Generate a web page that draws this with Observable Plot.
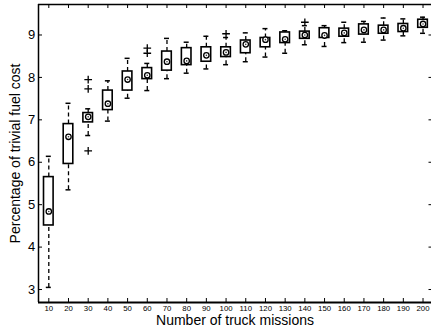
<!DOCTYPE html>
<html>
<head>
<meta charset="utf-8">
<script src="https://cdn.jsdelivr.net/npm/d3@7"></script>
<script src="https://cdn.jsdelivr.net/npm/@observablehq/plot@0.6"></script>
<style>
  html, body { margin: 0; padding: 0; background: #fff; overflow: hidden; }
  svg { display: block; }
</style>
</head>
<body>
<div id="chart"></div>
<script>
// ---- data ----
const missions    = [10, 20, 30, 40, 50, 60, 70, 80, 90, 100, 110, 120, 130, 140, 150, 160, 170, 180, 190, 200];
const whiskerLow  = [3.05, 5.35, 6.63, 6.97, 7.51, 7.69, 7.97, 8.10, 8.20, 8.30, 8.37, 8.48, 8.57, 8.77, 8.73, 8.82, 8.83, 8.88, 8.98, 9.04];
const q1          = [4.51, 5.96, 6.94, 7.23, 7.69, 7.96, 8.16, 8.29, 8.37, 8.48, 8.57, 8.71, 8.81, 8.91, 8.93, 8.96, 9.01, 9.03, 9.07, 9.17];
const median      = [4.84, 6.60, 7.07, 7.38, 7.95, 8.05, 8.37, 8.39, 8.52, 8.59, 8.78, 8.89, 8.90, 9.00, 8.99, 9.05, 9.12, 9.12, 9.16, 9.26];
const q3          = [5.65, 6.90, 7.16, 7.69, 8.14, 8.22, 8.61, 8.69, 8.71, 8.71, 8.87, 8.93, 9.06, 9.08, 9.16, 9.15, 9.25, 9.22, 9.26, 9.36];
const whiskerHigh = [6.14, 7.39, 7.26, 7.92, 8.45, 8.33, 8.92, 8.83, 8.97, 8.94, 9.05, 9.15, 9.10, 9.22, 9.22, 9.30, 9.32, 9.40, 9.38, 9.42];
const outlierMission = [30, 30, 30, 60, 60, 100, 140];
const outlierValue   = [7.95, 7.73, 6.27, 8.69, 8.57, 9.03, 9.30];
const yTicks = [3, 4, 5, 6, 7, 8, 9];
const xLabel = "Number of truck missions";
const yLabel = "Percentage of trivial fuel cost";

// ---- tables built from the arrays ----
const rows = missions.map((m, i) => ({m, lo: whiskerLow[i], q1: q1[i], med: median[i], q3: q3[i], hi: whiskerHigh[i]}));
const outliers = outlierMission.map((m, i) => ({m, v: outlierValue[i]}));

const W = 431, H = 333;
const mT = 4, mB = 31, mL = 38, mR = 0;
const innerW = W - mL - mR, innerH = H - mT - mB;
const xDomain = [4.77, 204.3];
const yDomain = [2.694, 9.719];
const pxPerX = innerW / (xDomain[1] - xDomain[0]);
const halfBox = 4.8 / pxPerX;
const halfCap = 2.5 / pxPerX;
const font = "'Liberation Sans', Arial, Helvetica, sans-serif";

const chart = Plot.plot({
  width: W, height: H,
  marginTop: mT, marginBottom: mB, marginLeft: mL, marginRight: mR,
  style: {fontFamily: font, background: "#fff", color: "#000", overflow: "visible"},
  x: {type: "linear", domain: xDomain, axis: null},
  y: {type: "linear", domain: yDomain, axis: null},
  marks: [
    // whiskers
    Plot.ruleX(rows, {x: "m", y1: "q3", y2: "hi", stroke: "#000", strokeWidth: 1.3, strokeDasharray: "4,3"}),
    Plot.ruleX(rows, {x: "m", y1: "lo", y2: "q1", stroke: "#000", strokeWidth: 1.3, strokeDasharray: "4,3"}),
    // caps
    Plot.ruleY(rows, {y: "hi", x1: d => d.m - halfCap, x2: d => d.m + halfCap, stroke: "#000", strokeWidth: 1.5}),
    Plot.ruleY(rows, {y: "lo", x1: d => d.m - halfCap, x2: d => d.m + halfCap, stroke: "#000", strokeWidth: 1.5}),
    // boxes
    Plot.rect(rows, {x1: d => d.m - halfBox, x2: d => d.m + halfBox, y1: "q1", y2: "q3", fill: "#fff", stroke: "#000", strokeWidth: 1.6}),
    // median markers
    Plot.dot(rows, {x: "m", y: "med", r: 2.7, fill: "#fff", stroke: "#000", strokeWidth: 1.3}),
    Plot.dot(rows, {x: "m", y: "med", r: 0.8, fill: "#333", stroke: "none"}),
    // outliers
    Plot.dot(outliers, {x: "m", y: "v", symbol: "plus", r: 2.6, stroke: "#000", strokeWidth: 1.3}),
    // frame lines (left, bottom, top)
    Plot.ruleX([xDomain[0]], {stroke: "#000", strokeWidth: 1.5}),
    Plot.ruleY([yDomain[0]], {stroke: "#000", strokeWidth: 1.8}),
    Plot.ruleY([yDomain[1]], {stroke: "#000", strokeWidth: 1.5}),
    // inward ticks
    Plot.ruleX(missions, {x: d => d, insetTop: innerH - 4, stroke: "#000", strokeWidth: 1}),
    Plot.ruleX(missions, {x: d => d, insetBottom: innerH - 4, stroke: "#000", strokeWidth: 1}),
    Plot.ruleY(yTicks, {y: d => d, insetRight: innerW - 4, stroke: "#000", strokeWidth: 1}),
    Plot.ruleY(yTicks, {y: d => d, insetLeft: innerW - 2.5, stroke: "#000", strokeWidth: 1}),
    // tick labels
    Plot.text(missions, {x: d => d, text: d => String(d), frameAnchor: "bottom", textAnchor: "middle", dy: 8, fontSize: 7.8, fill: "#000"}),
    Plot.text(yTicks, {y: d => d, text: d => String(d), frameAnchor: "left", textAnchor: "end", dx: -3.3, fontSize: 13, fill: "#000"}),
    // axis titles
    Plot.text([xLabel], {frameAnchor: "bottom", textAnchor: "middle", dy: 22, fontSize: 14, fill: "#000"}),
    Plot.text([yLabel], {frameAnchor: "left", textAnchor: "middle", rotate: -90, dx: -22.5, fontSize: 14, fill: "#000"})
  ]
});
document.getElementById("chart").appendChild(chart);
</script>
</body>
</html>
